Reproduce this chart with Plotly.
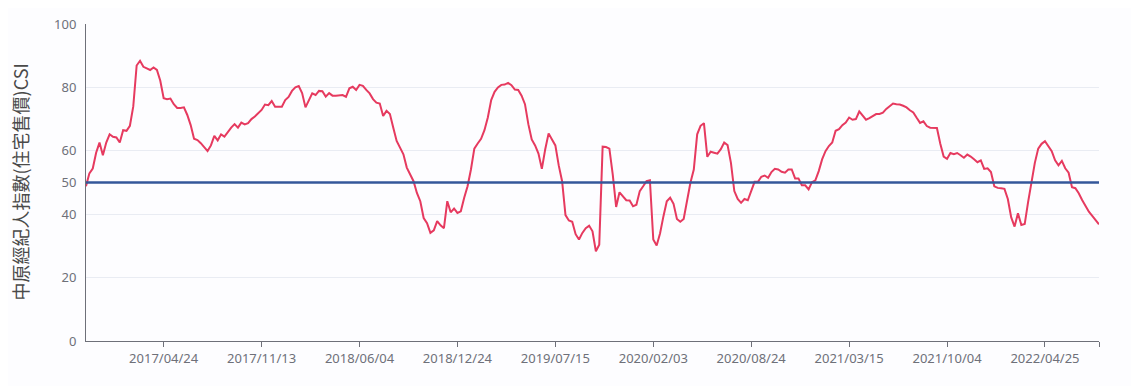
import pandas as pd
import plotly.graph_objects as go

# Weekly dates (Mondays) from 2016-11-14 to 2022-08-15
START_DATE = "2016-11-14"
csi_values = [
    48.8, 52.9, 54.4, 59.4, 62.6, 58.6, 62.6, 65.2, 64.4, 64.2,
    62.6, 66.5, 66.3, 67.9, 74.0, 86.9, 88.4, 86.5, 86.0, 85.5,
    86.3, 85.5, 82.1, 76.6, 76.3, 76.5, 74.7, 73.5, 73.5, 73.7,
    71.3, 68.1, 63.8, 63.4, 62.4, 61.3, 59.9, 61.7, 64.7, 63.3,
    65.2, 64.5, 66.0, 67.3, 68.4, 67.3, 68.9, 68.3, 68.7, 70.0,
    70.8, 71.8, 72.9, 74.6, 74.4, 75.7, 73.9, 73.9, 73.9, 76.0,
    77.0, 78.9, 80.0, 80.4, 78.2, 73.7, 75.8, 78.1, 77.6, 78.9,
    78.8, 77.1, 78.2, 77.4, 77.4, 77.5, 77.6, 77.0, 79.7, 80.2,
    79.2, 80.8, 80.5, 79.2, 78.1, 76.3, 75.2, 74.9, 71.0, 72.6,
    71.6, 67.3, 63.1, 61.0, 58.9, 54.7, 52.5, 50.4, 46.7, 44.1,
    38.8, 37.2, 34.1, 34.9, 37.8, 36.5, 35.6, 44.1, 40.6, 41.8,
    40.4, 40.9, 45.2, 48.8, 54.1, 60.7, 62.3, 63.8, 66.5, 70.5,
    76.0, 78.6, 80.0, 80.8, 80.9, 81.4, 80.7, 79.3, 79.2, 77.4,
    74.7, 68.4, 63.6, 61.7, 59.1, 54.3, 60.5, 65.5, 63.6, 61.7,
    55.4, 50.4, 39.7, 38.0, 37.6, 33.7, 32.0, 34.1, 35.6, 36.4,
    34.6, 28.3, 30.4, 61.3, 61.2, 60.7, 52.5, 42.3, 46.9, 45.5,
    44.4, 44.3, 42.5, 43.0, 47.3, 48.8, 50.4, 50.7, 32.0, 30.1,
    33.9, 39.3, 44.1, 45.2, 43.3, 38.5, 37.6, 38.5, 44.3, 49.9,
    54.1, 65.2, 67.9, 68.7, 58.1, 59.7, 59.4, 59.1, 60.5, 62.6,
    61.8, 56.2, 47.3, 44.8, 43.6, 44.8, 44.4, 47.3, 50.2, 50.2,
    51.8, 52.2, 51.5, 53.3, 54.3, 54.1, 53.4, 53.1, 54.1, 54.1,
    51.3, 51.3, 49.1, 49.1, 47.8, 50.1, 50.7, 53.6, 57.3, 59.9,
    61.5, 62.6, 66.3, 66.8, 68.1, 68.9, 70.5, 69.8, 70.0, 72.4,
    71.0, 69.8, 70.3, 71.0, 71.6, 71.6, 72.0, 73.2, 74.2, 74.9,
    74.7, 74.6, 74.2, 73.7, 72.8, 72.1, 70.4, 68.8, 69.3, 67.8,
    67.3, 67.3, 67.2, 62.2, 58.2, 57.5, 59.3, 58.9, 59.3, 58.6,
    57.8, 58.8, 58.2, 57.3, 56.4, 57.0, 54.3, 54.5, 53.3, 48.8,
    48.3, 48.2, 48.0, 44.8, 39.0, 36.1, 40.3, 36.6, 36.9, 43.8,
    49.8, 56.2, 60.7, 62.2, 63.0, 61.5, 59.9, 57.0, 55.4, 56.8,
    54.5, 53.1, 48.5, 48.2, 46.6, 44.5, 42.7, 40.8, 39.5, 38.0,
    36.8,
]
dates = pd.date_range(START_DATE, periods=len(csi_values), freq="7D")

x_tick_labels = ["2017/04/24", "2017/11/13", "2018/06/04", "2018/12/24", "2019/07/15",
                 "2020/02/03", "2020/08/24", "2021/03/15", "2021/10/04", "2022/04/25"]
y_tick_values = [0, 20, 40, 50, 60, 80, 100]
THRESHOLD = 50
Y_TITLE = "中原經紀人指數(住宅售價)CSI"

tick_dates = [pd.Timestamp(t.replace("/", "-")) for t in x_tick_labels]

fig = go.Figure()
fig.add_trace(go.Scatter(
    x=dates, y=csi_values, mode="lines",
    line=dict(color="#e63a5f", width=2),
    hoverinfo="x+y", showlegend=False,
))
fig.add_trace(go.Scatter(
    x=[dates[0], dates[-1]], y=[THRESHOLD, THRESHOLD], mode="lines",
    line=dict(color="#34579a", width=2.5),
    showlegend=False, hoverinfo="skip",
))

font_family = "Noto Sans, Noto Sans CJK TC, sans-serif"
fig.update_layout(
    width=1139, height=386,
    margin=dict(l=78, r=48, t=16, b=53, autoexpand=False),
    paper_bgcolor="#fdfdff", plot_bgcolor="#fdfdff",
    font=dict(family=font_family, size=13, color="#6e7079"),
    showlegend=False,
)
fig.update_xaxes(
    type="date",
    range=[dates[0], dates[-1]],
    tickvals=tick_dates + [dates[-1]],
    ticktext=x_tick_labels + [""],
    ticks="outside", ticklen=5, tickcolor="#6e7079", tickwidth=1,
    showline=True, linecolor="#6e7079", linewidth=1,
    showgrid=False, zeroline=False,
    tickfont=dict(size=13, color="#6e7079"),
)
fig.update_yaxes(
    range=[0, 100],
    tickvals=y_tick_values,
    ticks="", ticklabelstandoff=6,
    showline=True, linecolor="#6e7079", linewidth=1,
    showgrid=True, gridcolor="#e9ecf3", gridwidth=1,
    zeroline=False,
    tickfont=dict(size=13, color="#6e7079"),
)
fig.add_annotation(
    text=Y_TITLE, textangle=-90,
    xref="paper", yref="paper", x=(19 - 86) / 1013, y=0.5,
    xanchor="center", yanchor="middle", showarrow=False,
    font=dict(family="Noto Sans CJK TC, sans-serif", size=18, color="#4a4a4a"),
)
fig.write_html("out.html")
